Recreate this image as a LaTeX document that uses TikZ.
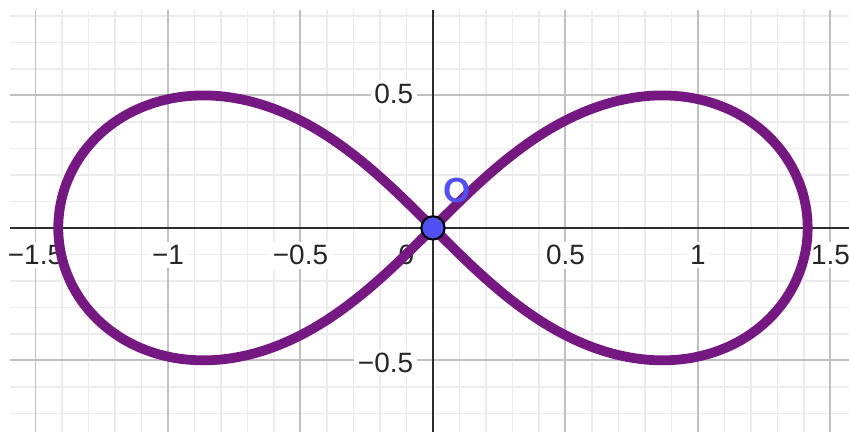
\documentclass[tikz,border=0pt]{standalone}
\usepackage{fontspec}
\setmainfont{Liberation Sans}
\usetikzlibrary{positioning,calc}
\definecolor{LemPurple}{RGB}{118,24,130}
\definecolor{PtBlue}{RGB}{80,80,245}
\definecolor{MinorGray}{RGB}{235,235,235}
\definecolor{MajorGray}{RGB}{192,192,192}
\definecolor{AxisGray}{RGB}{45,45,45}
\tikzset{
  minor/.style={draw=MinorGray,line width=0.65pt},
  major/.style={draw=MajorGray,line width=0.85pt},
  axis/.style={draw=AxisGray,line width=0.9pt},
  curve/.style={draw=LemPurple,line width=4.2pt,line join=round},
  ticklab/.style={fill=white,inner sep=1.5pt,font=\fontsize{12}{14}\selectfont,text=black!85},
  pt/.style={circle,draw=black,fill=PtBlue,line width=0.9pt,minimum size=10pt,inner sep=0pt},
  ptlab/.style={text=PtBlue,font=\fontsize{15}{17}\selectfont\bfseries,inner sep=0pt},
}
\begin{document}
\begin{tikzpicture}[x=4cm,y=4cm]
\useasboundingbox (-1.634,-0.770) rectangle (1.570,0.860);
% grid
\foreach \i in {-15,...,15} \draw[minor] (\i/10,-0.770)--(\i/10,0.822);
\foreach \j in {-7,...,8} \draw[minor] (-1.596,\j/10)--(1.570,\j/10);
\foreach \i in {-15,-10,...,15} \draw[major] (\i/10,-0.770)--(\i/10,0.822);
\foreach \j in {-5,5} \draw[major] (-1.596,\j/10)--(1.570,\j/10);
% axes
\coordinate (xl) at (-1.596,0); \coordinate (xr) at (1.570,0);
\coordinate (yb) at (0,-0.770); \coordinate (yt) at (0,0.822);
\draw[axis] (xl)--(xr);
\draw[axis] (yb)--(yt);
% tick labels
\foreach \x/\t/\n in {-1.5/−1.5/a,-1/−1/b,-0.5/−0.5/c,0.5/0.5/d,1/1/e,1.5/1.5/f}
  \node[ticklab] (tx\n) at (\x,-0.103) {\t};
\node[ticklab,fill=none] (tx0) at (-0.1,-0.103) {0};
\node[ticklab,anchor=east] (ty1) at (-0.06,0.505) {0.5};
\node[ticklab,anchor=east] (ty2) at (-0.06,-0.51) {−0.5};
% lemniscate
\draw[curve] plot[domain=0:360,samples=241,smooth,variable=\t]
  ({1.41421*cos(\t)/(1+sin(\t)^2)},{1.41421*sin(\t)*cos(\t)/(1+sin(\t)^2)}) -- cycle;
\node[pt] (O) at (0,0) {};
\node[ptlab] (Olab) at (0.091,0.143) {O};
\end{tikzpicture}
\end{document}
